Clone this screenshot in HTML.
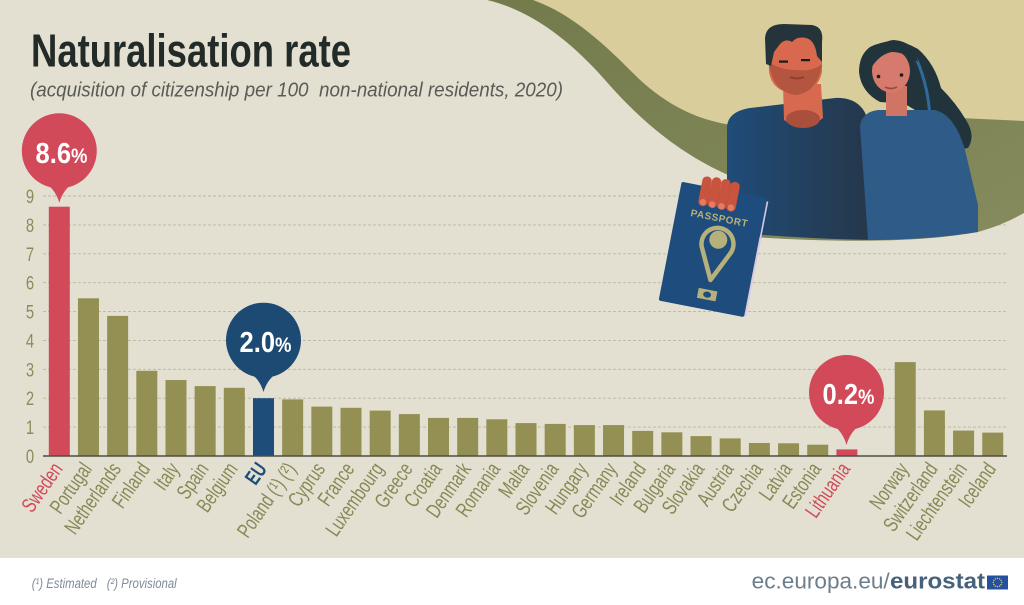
<!DOCTYPE html>
<html><head><meta charset="utf-8"><style>
html,body{margin:0;padding:0;background:#fff}
svg{display:block}
text{font-family:"Liberation Sans",sans-serif}
</style></head><body>
<svg width="1024" height="605" viewBox="0 0 1024 605" xmlns="http://www.w3.org/2000/svg">
<defs>
<linearGradient id="manG" x1="0" x2="1" y1="0" y2="0"><stop offset="0" stop-color="#1f4c79"/><stop offset="0.6" stop-color="#233f5c"/><stop offset="1" stop-color="#25374a"/></linearGradient>
<linearGradient id="olG" x1="0" x2="1" y1="0" y2="1"><stop offset="0" stop-color="#737a4c"/><stop offset="1" stop-color="#858b5d"/></linearGradient>
</defs>
<rect x="0" y="0" width="1024" height="558" fill="#e3e0d2"/>
<rect x="0" y="558" width="1024" height="47" fill="#ffffff"/>

<!-- gridlines -->
<g stroke="#b9b69d" stroke-width="0.9" stroke-dasharray="3 2">
<line x1="43" x2="1007" y1="196" y2="196"/>
<line x1="43" x2="1007" y1="224.9" y2="224.9"/>
<line x1="43" x2="1007" y1="253.8" y2="253.8"/>
<line x1="43" x2="1007" y1="282.7" y2="282.7"/>
<line x1="43" x2="1007" y1="311.6" y2="311.6"/>
<line x1="43" x2="1007" y1="340.4" y2="340.4"/>
<line x1="43" x2="1007" y1="369.3" y2="369.3"/>
<line x1="43" x2="1007" y1="398.2" y2="398.2"/>
<line x1="43" x2="1007" y1="427.1" y2="427.1"/>
</g>

<!-- illustration -->
<path d="M487 0 C530 10 570 40 605 80 C640 120 680 155 735 178 L735 236 C800 240 900 246 978 232 C1000 226 1015 218 1024 213 L1024 0 Z" fill="url(#olG)"/>
<path d="M533 0 C575 15 608 48 638 78 C668 106 700 122 740 126 L960 118 L1024 121 L1024 0 Z" fill="#d9ce9b"/>
<!-- man body -->
<path d="M727 128 C727 115 738 110 750 108 L835 98 C852 97 862 105 866 115 L872 240 C820 239 770 236 727 232 Z" fill="url(#manG)"/>
<!-- man neck -->
<path d="M783 84 L821 84 L823 118 Q803 134 784 120 Z" fill="#d6694e"/>
<ellipse cx="803" cy="119" rx="17" ry="9" fill="#a94f3b"/>
<!-- man head -->
<path d="M768 40 Q768 30 780 30 L812 30 Q822 30 822 42 L822 72 Q818 92 796 94 Q772 92 769 72 Z" fill="#d8694e"/>
<path d="M769 62 Q772 92 796 95 Q818 92 822 64 Q812 72 796 70 Q780 70 769 62 Z" fill="#b4553f"/>
<path d="M766 64 L765 38 Q766 24 784 24 L812 25 Q824 27 822 42 L822 62 L817 56 Q815 40 806 38 Q797 36 792 42 Q786 38 780 44 L774 52 L771 66 Z" fill="#25343a"/>
<rect x="779" y="60.5" width="9" height="2.2" fill="#1b1b1b"/>
<rect x="801" y="59" width="9" height="2.2" fill="#1b1b1b"/>
<path d="M790 77 Q797 80 804 77" stroke="#8e3f30" stroke-width="2" fill="none"/>
<!-- woman hair back -->
<path d="M870 47 Q895 35 918 49 Q935 64 941 88 Q956 103 966 120 Q976 136 968 148 Q955 151 944 141 L925 116 L905 104 L880 102 Q861 92 859 72 Q859 55 870 47 Z" fill="#22343b"/>
<path d="M912 50 Q928 80 930 118 Q936 134 946 142" stroke="#2f6a9c" stroke-width="3" fill="none"/>
<!-- woman body -->
<path d="M860 126 Q862 112 878 110 L935 110 Q955 115 965 150 L978 205 L978 232 C940 238 900 240 868 240 Z" fill="#2f5b88"/>
<rect x="886" y="86" width="21" height="30" fill="#cf7566"/>
<ellipse cx="891" cy="71" rx="19" ry="21.5" fill="#d57a6c"/>
<path d="M871 68 Q871 42 894 40 Q916 42 918 62 Q904 52 892 52 Q880 54 871 68 Z" fill="#22343b"/>
<circle cx="878.5" cy="76.5" r="1.8" fill="#1b1b1b"/>
<circle cx="901.5" cy="75" r="1.8" fill="#1b1b1b"/>
<path d="M885 87 Q891 90 897 87" stroke="#9c4a3e" stroke-width="1.8" fill="none"/>
<!-- passport -->
<g transform="translate(681.7,181.7) rotate(11)">
<rect x="0" y="0" width="87" height="121" rx="2" fill="#1e4c7d"/>
<line x1="88" y1="3" x2="88" y2="120" stroke="#d8c8e4" stroke-width="1.6"/>
<text x="44" y="32" text-anchor="middle" font-size="10" font-weight="bold" fill="#b6b07a" letter-spacing="0.5">PASSPORT</text>
<path d="M47 91 L33 62 A16 16 0 1 1 61 62 Z" fill="none" stroke="#b6b07a" stroke-width="4.5" stroke-linejoin="round"/>
<circle cx="47" cy="50" r="9" fill="#b6b07a"/>
<rect x="37" y="101" width="19" height="10" fill="#b6b07a"/>
<ellipse cx="46.5" cy="106" rx="4" ry="3" fill="#1e4c7d"/>
<g fill="#c9543e">
<rect x="20" y="-10" width="9.5" height="30" rx="4.5"/>
<rect x="29.5" y="-11" width="9.5" height="31" rx="4.5"/>
<rect x="39" y="-11" width="9.5" height="31" rx="4.5"/>
<rect x="48.5" y="-10" width="9.5" height="30" rx="4.5"/>
</g>
<g fill="#e27c63"><circle cx="24.7" cy="16" r="3.2"/><circle cx="34.2" cy="16.5" r="3.2"/><circle cx="43.7" cy="16.5" r="3.2"/><circle cx="53.2" cy="16" r="3.2"/></g>
</g>

<!-- title -->
<text x="31" y="66.7" font-size="46" font-weight="bold" fill="#232b28" textLength="320" lengthAdjust="spacingAndGlyphs">Naturalisation rate</text>
<text x="30" y="96.5" font-size="20" font-style="italic" fill="#5a5a56" textLength="533" lengthAdjust="spacingAndGlyphs" xml:space="preserve">(acquisition of citizenship per 100  non-national residents, 2020)</text>

<!-- y labels -->
<g font-size="19" fill="#8f8b5b" text-anchor="middle">
<text transform="translate(30,463) scale(0.78,1)">0</text>
<text transform="translate(30,434.1) scale(0.78,1)">1</text>
<text transform="translate(30,405.2) scale(0.78,1)">2</text>
<text transform="translate(30,376.3) scale(0.78,1)">3</text>
<text transform="translate(30,347.4) scale(0.78,1)">4</text>
<text transform="translate(30,318.6) scale(0.78,1)">5</text>
<text transform="translate(30,289.7) scale(0.78,1)">6</text>
<text transform="translate(30,260.8) scale(0.78,1)">7</text>
<text transform="translate(30,231.9) scale(0.78,1)">8</text>
<text transform="translate(30,203) scale(0.78,1)">9</text>
</g>

<!-- bars -->
<g fill="#948f52">
<rect x="77.97" y="298.3" width="21" height="157.7"/>
<rect x="107.14" y="315.9" width="21" height="140.1"/>
<rect x="136.31" y="370.8" width="21" height="85.2"/>
<rect x="165.48" y="380" width="21" height="76"/>
<rect x="194.65" y="386.1" width="21" height="69.9"/>
<rect x="223.82" y="387.8" width="21" height="68.2"/>
<rect x="282.16" y="399.4" width="21" height="56.6"/>
<rect x="311.33" y="406.6" width="21" height="49.4"/>
<rect x="340.5" y="407.8" width="21" height="48.2"/>
<rect x="369.67" y="410.6" width="21" height="45.4"/>
<rect x="398.84" y="414.1" width="21" height="41.9"/>
<rect x="428.01" y="417.9" width="21" height="38.1"/>
<rect x="457.18" y="417.9" width="21" height="38.1"/>
<rect x="486.35" y="419.3" width="21" height="36.7"/>
<rect x="515.52" y="423.1" width="21" height="32.9"/>
<rect x="544.69" y="423.9" width="21" height="32.1"/>
<rect x="573.86" y="425.1" width="21" height="30.9"/>
<rect x="603.03" y="425.1" width="21" height="30.9"/>
<rect x="632.2" y="430.9" width="21" height="25.1"/>
<rect x="661.37" y="432.3" width="21" height="23.7"/>
<rect x="690.54" y="436.1" width="21" height="19.9"/>
<rect x="719.71" y="438.4" width="21" height="17.6"/>
<rect x="748.88" y="443" width="21" height="13"/>
<rect x="778.05" y="443.3" width="21" height="12.7"/>
<rect x="807.22" y="444.7" width="21" height="11.3"/>
<rect x="894.73" y="362.1" width="21" height="93.9"/>
<rect x="923.9" y="410.4" width="21" height="45.6"/>
<rect x="953.07" y="430.6" width="21" height="25.4"/>
<rect x="982.24" y="432.6" width="21" height="23.4"/>
</g>
<rect x="48.8" y="206.7" width="21" height="249.3" fill="#d2495a"/>
<rect x="836.39" y="449.4" width="21" height="6.6" fill="#d2495a"/>
<rect x="252.99" y="398.2" width="21" height="57.8" fill="#1f4d7a"/>
<line x1="43" x2="1007" y1="456" y2="456" stroke="#4d4d45" stroke-width="1.6"/>

<!-- bubbles -->
<g fill="#d2495a">
<circle cx="59.3" cy="150.8" r="37.5"/>
<path d="M43.3 181.8 Q55.3 188.8 59.3 202.8 Q63.3 188.8 75.3 181.8 Z"/>
<circle cx="846.5" cy="392.5" r="37.5"/>
<path d="M830.5 423.5 Q842.5 430.5 846.5 445 Q850.5 430.5 862.5 423.5 Z"/>
</g>
<g fill="#1d4a73">
<circle cx="263.5" cy="340.2" r="37.5"/>
<path d="M247.5 371.2 Q259.5 378.2 263.5 392 Q267.5 378.2 279.5 371.2 Z"/>
</g>
<g fill="#ffffff" font-weight="bold" font-size="29" text-anchor="middle">
<text transform="translate(61.5,163.2) scale(0.88,1)">8.6<tspan font-size="21">%</tspan></text>
<text transform="translate(265.5,351.8) scale(0.88,1)">2.0<tspan font-size="21">%</tspan></text>
<text transform="translate(848.5,404) scale(0.88,1)">0.2<tspan font-size="21">%</tspan></text>
</g>

<!-- x labels -->
<g font-size="21" fill="#8a8755" text-anchor="end">
<text transform="translate(63.5,469) rotate(-55) scale(0.72,1)" fill="#d2495a">Sweden</text>
<text transform="translate(92.7,469) rotate(-55) scale(0.72,1)">Portugal</text>
<text transform="translate(121.8,469) rotate(-55) scale(0.72,1)">Netherlands</text>
<text transform="translate(151,469) rotate(-55) scale(0.72,1)">Finland</text>
<text transform="translate(180.2,469) rotate(-55) scale(0.72,1)">Italy</text>
<text transform="translate(209.4,469) rotate(-55) scale(0.72,1)">Spain</text>
<text transform="translate(238.5,469) rotate(-55) scale(0.72,1)">Belgium</text>
<text transform="translate(267.7,469) rotate(-55) scale(0.72,1)" fill="#1f4d7a" font-weight="bold">EU</text>
<text transform="translate(296.9,469) rotate(-55) scale(0.72,1)">Poland (¹) (²)</text>
<text transform="translate(326,469) rotate(-55) scale(0.72,1)">Cyprus</text>
<text transform="translate(355.2,469) rotate(-55) scale(0.72,1)">France</text>
<text transform="translate(384.4,469) rotate(-55) scale(0.72,1)">Luxembourg</text>
<text transform="translate(413.5,469) rotate(-55) scale(0.72,1)">Greece</text>
<text transform="translate(442.7,469) rotate(-55) scale(0.72,1)">Croatia</text>
<text transform="translate(471.9,469) rotate(-55) scale(0.72,1)">Denmark</text>
<text transform="translate(501.1,469) rotate(-55) scale(0.72,1)">Romania</text>
<text transform="translate(530.2,469) rotate(-55) scale(0.72,1)">Malta</text>
<text transform="translate(559.4,469) rotate(-55) scale(0.72,1)">Slovenia</text>
<text transform="translate(588.6,469) rotate(-55) scale(0.72,1)">Hungary</text>
<text transform="translate(617.7,469) rotate(-55) scale(0.72,1)">Germany</text>
<text transform="translate(646.9,469) rotate(-55) scale(0.72,1)">Ireland</text>
<text transform="translate(676.1,469) rotate(-55) scale(0.72,1)">Bulgaria</text>
<text transform="translate(705.2,469) rotate(-55) scale(0.72,1)">Slovakia</text>
<text transform="translate(734.4,469) rotate(-55) scale(0.72,1)">Austria</text>
<text transform="translate(763.6,469) rotate(-55) scale(0.72,1)">Czechia</text>
<text transform="translate(792.8,469) rotate(-55) scale(0.72,1)">Latvia</text>
<text transform="translate(821.9,469) rotate(-55) scale(0.72,1)">Estonia</text>
<text transform="translate(851.1,469) rotate(-55) scale(0.72,1)" fill="#d2495a">Lithuania</text>
<text transform="translate(909.4,469) rotate(-55) scale(0.72,1)">Norway</text>
<text transform="translate(938.6,469) rotate(-55) scale(0.72,1)">Switzerland</text>
<text transform="translate(967.8,469) rotate(-55) scale(0.72,1)">Liechtenstein</text>
<text transform="translate(996.9,469) rotate(-55) scale(0.72,1)">Iceland</text>
</g>

<!-- footer -->
<g font-size="13.5" font-style="italic" fill="#7d8c9c">
<text x="31.7" y="588" textLength="65" lengthAdjust="spacingAndGlyphs">(¹) Estimated</text>
<text x="106.7" y="588" textLength="70" lengthAdjust="spacingAndGlyphs">(²) Provisional</text>
</g>
<text x="751.7" y="588.7" font-size="22" fill="#6b7e8e" textLength="138" lengthAdjust="spacingAndGlyphs">ec.europa.eu/</text>
<text x="890" y="588.7" font-size="22" font-weight="bold" fill="#46617a" textLength="95" lengthAdjust="spacingAndGlyphs">eurostat</text>
<rect x="987" y="575.5" width="21" height="14" fill="#2350a0"/>
<g fill="#f2d22e">
<circle cx="997.5" cy="578.3" r="0.7"/><circle cx="999.6" cy="578.9" r="0.7"/><circle cx="1001.1" cy="580.4" r="0.7"/><circle cx="1001.7" cy="582.5" r="0.7"/><circle cx="1001.1" cy="584.6" r="0.7"/><circle cx="999.6" cy="586.1" r="0.7"/><circle cx="997.5" cy="586.7" r="0.7"/><circle cx="995.4" cy="586.1" r="0.7"/><circle cx="993.9" cy="584.6" r="0.7"/><circle cx="993.3" cy="582.5" r="0.7"/><circle cx="993.9" cy="580.4" r="0.7"/><circle cx="995.4" cy="578.9" r="0.7"/>
</g>
</svg>
</body></html>
